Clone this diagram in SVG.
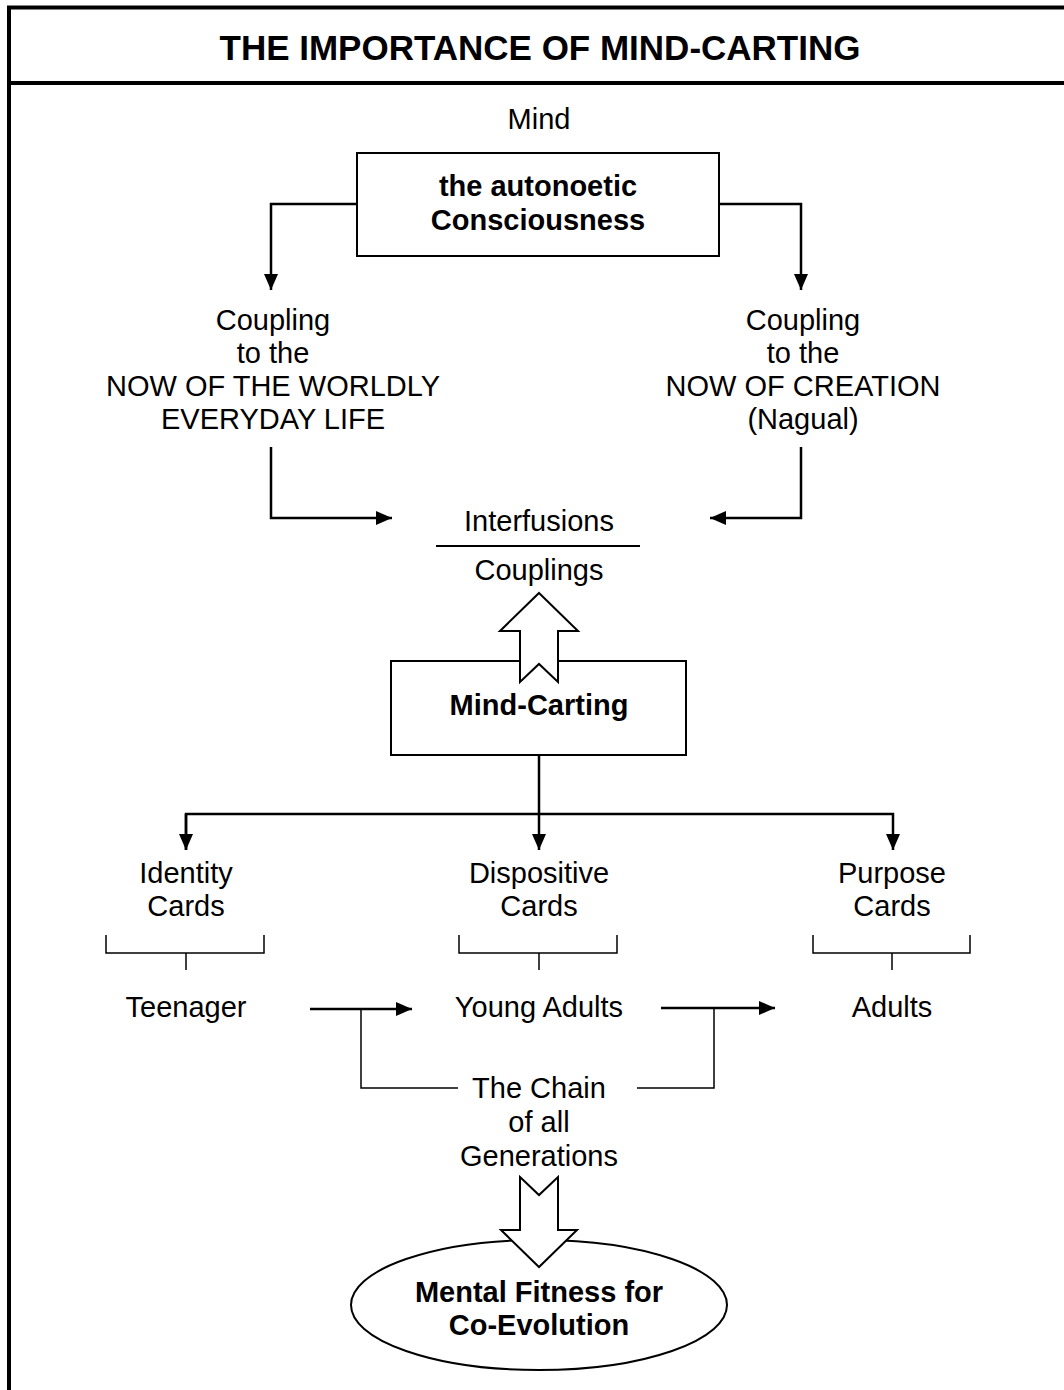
<svg xmlns="http://www.w3.org/2000/svg" width="1064" height="1390" viewBox="0 0 1064 1390">
<style>
text{font-family:"Liberation Sans",Arial,sans-serif;font-size:29px;fill:#000;text-anchor:middle}
.b{font-weight:bold}
.t{font-weight:bold;font-size:35px}
.box{fill:#fff;stroke:#000;stroke-width:2}
.c{fill:none;stroke:#000;stroke-width:2.5}
.thin{fill:none;stroke:#000;stroke-width:1.5}
.frame{fill:none;stroke:#000;stroke-width:4}
.hollow{fill:#fff;stroke:#000;stroke-width:2;stroke-linejoin:miter}
</style>
<defs>
<marker id="ah" markerWidth="16" markerHeight="14" refX="16" refY="7" orient="auto" markerUnits="userSpaceOnUse">
<path d="M0,0 L16,7 L0,14 Z" fill="#000"/>
</marker>
</defs>
<rect width="1064" height="1390" fill="#fff"/>
<g id="frame">
<path class="frame" d="M9,1390 V7.5 H1064"/>
<path class="frame" d="M9,83 H1064"/>
<text class="t" x="540" y="60">THE IMPORTANCE OF MIND-CARTING</text>
</g>
<g id="connectors">
<path class="c" d="M357,204 H271 V290" marker-end="url(#ah)"/>
<path class="c" d="M719,204 H801 V290" marker-end="url(#ah)"/>
<path class="c" d="M271,447 V518 H392" marker-end="url(#ah)"/>
<path class="c" d="M801,447 V518 H710" marker-end="url(#ah)"/>
<path class="c" d="M539,755 V850" marker-end="url(#ah)"/>
<path class="c" d="M186,850 V814 H893 V850" marker-end="url(#ah)"/>
<path class="c" d="M186,814 V850" marker-end="url(#ah)"/>
<path class="c" d="M310,1009 H412" marker-end="url(#ah)"/>
<path class="thin" d="M361,1009 V1088 H458"/>
<path class="c" d="M661,1008 H775" marker-end="url(#ah)"/>
<path class="thin" d="M714,1008 V1088 H637"/>
<path class="thin" d="M106,935 V953 H264 V935 M186,953 V970"/>
<path class="thin" d="M459,935 V953 H617 V935 M539,953 V970"/>
<path class="thin" d="M813,935 V953 H970 V935 M892,953 V970"/>
<path d="M436,546 H640" stroke="#000" stroke-width="2"/>
</g>
<g id="mind"><text x="539" y="129">Mind</text></g>
<g id="consciousness">
<rect class="box" x="357" y="153" width="362" height="103"/>
<text class="b" x="538" y="196">the autonoetic</text>
<text class="b" x="538" y="230">Consciousness</text>
</g>
<g id="coupling-worldly">
<text x="273" y="330">Coupling</text>
<text x="273" y="363">to the</text>
<text x="273" y="396">NOW OF THE WORLDLY</text>
<text x="273" y="429">EVERYDAY LIFE</text>
</g>
<g id="coupling-creation">
<text x="803" y="330">Coupling</text>
<text x="803" y="363">to the</text>
<text x="803" y="396">NOW OF CREATION</text>
<text x="803" y="429">(Nagual)</text>
</g>
<g id="interfusions">
<text x="539" y="531">Interfusions</text>
<text x="539" y="580">Couplings</text>
</g>
<g id="mind-carting">
<rect class="box" x="391" y="661" width="295" height="94"/>
<text class="b" x="539" y="715">Mind-Carting</text>
</g>
<g id="up-arrow">
<path class="hollow" d="M539,593 L578,631 L558,631 L558,682 L539,664 L520,682 L520,631 L500,631 Z"/>
</g>
<g id="identity">
<text x="186" y="883">Identity</text>
<text x="186" y="916">Cards</text>
</g>
<g id="dispositive">
<text x="539" y="883">Dispositive</text>
<text x="539" y="916">Cards</text>
</g>
<g id="purpose">
<text x="892" y="883">Purpose</text>
<text x="892" y="916">Cards</text>
</g>
<g id="teenager"><text x="186" y="1017">Teenager</text></g>
<g id="young-adults"><text x="539" y="1017">Young Adults</text></g>
<g id="adults"><text x="892" y="1017">Adults</text></g>
<g id="chain">
<text x="539" y="1098">The Chain</text>
<text x="539" y="1132">of all</text>
<text x="539" y="1166">Generations</text>
</g>
<g id="fitness">
<ellipse class="box" cx="539" cy="1305" rx="188" ry="65"/>
<text class="b" x="539" y="1302">Mental Fitness for</text>
<text class="b" x="539" y="1335">Co-Evolution</text>
</g>
<g id="down-arrow">
<path class="hollow" d="M520,1177 L539,1195 L558,1177 L558,1230 L577,1230 L539,1267 L501,1230 L520,1230 Z"/>
</g>
</svg>
